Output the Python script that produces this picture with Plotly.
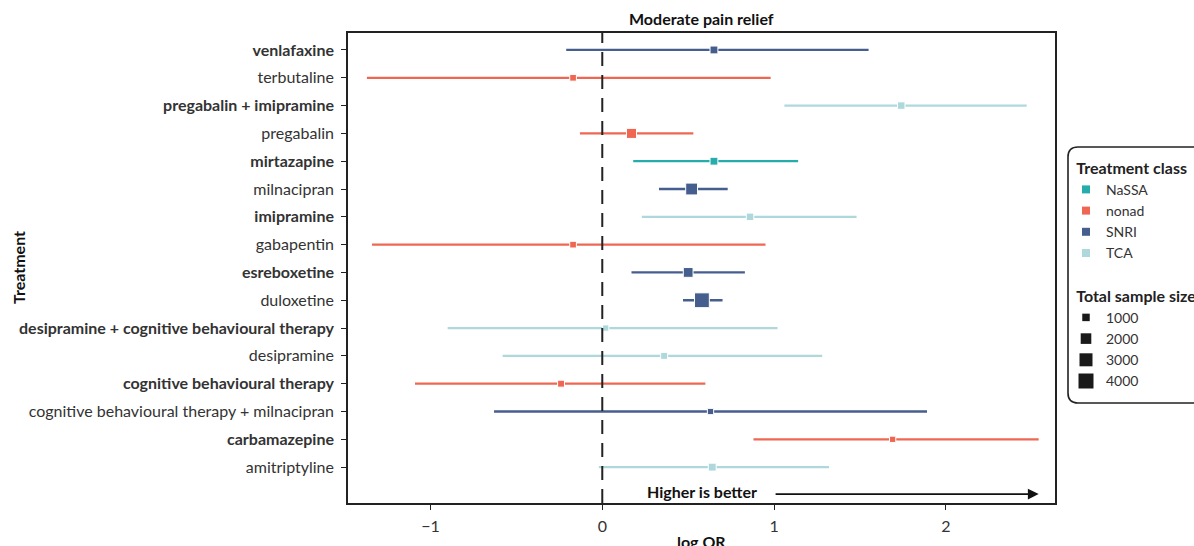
import math
import plotly.graph_objects as go

# ---------------- data (top to bottom as shown) ----------------
treatments = [
    "venlafaxine", "terbutaline", "pregabalin + imipramine", "pregabalin",
    "mirtazapine", "milnacipran", "imipramine", "gabapentin", "esreboxetine",
    "duloxetine", "desipramine + cognitive behavioural therapy", "desipramine",
    "cognitive behavioural therapy", "cognitive behavioural therapy + milnacipran",
    "carbamazepine", "amitriptyline",
]
treatment_class = [
    "SNRI", "nonad", "TCA", "nonad", "NaSSA", "SNRI", "TCA", "nonad", "SNRI",
    "SNRI", "TCA", "TCA", "nonad", "SNRI", "nonad", "TCA",
]
log_or = [0.65, -0.17, 1.74, 0.17, 0.65, 0.52, 0.86, -0.17, 0.50,
          0.58, 0.02, 0.36, -0.24, 0.63, 1.69, 0.64]
ci_low = [-0.21, -1.37, 1.06, -0.13, 0.18, 0.33, 0.23, -1.34, 0.17,
          0.47, -0.90, -0.58, -1.09, -0.63, 0.88, -0.02]
ci_high = [1.55, 0.98, 2.47, 0.53, 1.14, 0.73, 1.48, 0.95, 0.83,
           0.70, 1.02, 1.28, 0.60, 1.89, 2.54, 1.32]
sample_size = [1100, 800, 1000, 1800, 1100, 2500, 1000, 800, 1700,
               3900, 700, 850, 850, 700, 700, 1100]

class_names = ["NaSSA", "nonad", "SNRI", "TCA"]
class_colors = ["#26ADAB", "#EF6753", "#465E8E", "#AED8DB"]
legend_sizes = [1000, 2000, 3000, 4000]
x_ticks = [-1, 0, 1, 2]

FONT = "Lato"


def size_px(n):
    return 15 * math.sqrt(n / 4000)


# bottom-to-top category order
cat_order = treatments[::-1]

fig = go.Figure()

for cname, col in zip(class_names, class_colors):
    idx = [i for i, c in enumerate(treatment_class) if c == cname]
    fig.add_trace(go.Scatter(
        x=[log_or[i] for i in idx],
        y=[treatments[i] for i in idx],
        mode="markers",
        name=cname,
        showlegend=False,
        marker=dict(symbol="square", color=col, opacity=1,
                    size=[size_px(sample_size[i]) for i in idx]),
        error_x=dict(
            type="data", symmetric=False,
            array=[ci_high[i] - log_or[i] for i in idx],
            arrayminus=[log_or[i] - ci_low[i] for i in idx],
            color=col, thickness=2.3, width=0,
        ),
        hoverinfo="skip",
    ))

# legend entries: treatment class
for cname, col in zip(class_names, class_colors):
    fig.add_trace(go.Scatter(
        x=[None], y=[None], mode="markers", name=cname, legend="legend",
        marker=dict(symbol="square", color=col, size=8, opacity=1),
    ))

# legend entries: sample size
for n in legend_sizes:
    fig.add_trace(go.Scatter(
        x=[None], y=[None], mode="markers", name=str(n), legend="legend2",
        marker=dict(symbol="square", color="#1a1a1a", size=size_px(n), opacity=1),
    ))

# ---------------- layout ----------------
L, R, T, B = 348, 1055, 33, 503
W, H = 1194, 546
pw, ph = R - L, B - T


def px_to_paper(px, py):
    return (px - L) / pw, (B - py) / ph


# rounded legend box path
bx0, by0, bx1, by1, rad = 1068, 147, 1205, 403, 10


def P(x, y):
    a, b = px_to_paper(x, y)
    return f"{a:.5f},{b:.5f}"


path = (f"M {P(bx0 + rad, by0)} L {P(bx1 - rad, by0)} Q {P(bx1, by0)} {P(bx1, by0 + rad)} "
        f"L {P(bx1, by1 - rad)} Q {P(bx1, by1)} {P(bx1 - rad, by1)} "
        f"L {P(bx0 + rad, by1)} Q {P(bx0, by1)} {P(bx0, by1 - rad)} "
        f"L {P(bx0, by0 + rad)} Q {P(bx0, by0)} {P(bx0 + rad, by0)} Z")

ticktext = [f"<b>{c}</b>" if i % 2 == 1 else c for i, c in enumerate(cat_order)]

fig.update_layout(
    width=W, height=H,
    margin=dict(l=L, r=W - R, t=T, b=H - B, autoexpand=False),
    paper_bgcolor="white", plot_bgcolor="white",
    font=dict(family=FONT, size=15, color="#222222"),
    showlegend=True,
    xaxis=dict(
        range=[-1.48, 2.635], tickvals=x_ticks,
        ticktext=[str(v).replace("-", "\u2212") for v in x_ticks],
        showgrid=False, zeroline=False, showline=True, mirror=True,
        linecolor="#222222", linewidth=1.6, ticks="outside", ticklen=5,
        tickcolor="#222222", tickwidth=1.4, tickfont=dict(size=16, color="#333333"),
        ticklabelstandoff=3, automargin=False,
    ),
    yaxis=dict(
        type="category", categoryorder="array", categoryarray=cat_order,
        tickvals=cat_order, ticktext=ticktext,
        range=[-1.29, 15.61],
        showgrid=False, zeroline=False, showline=True, mirror=True,
        linecolor="#222222", linewidth=1.6, ticks="outside", ticklen=5,
        tickcolor="#222222", tickwidth=1.4, tickfont=dict(size=16, color="#333333"),
        ticklabelstandoff=4, automargin=False,
    ),
    legend=dict(
        title=dict(text="\u00a0\u00a0<b>Treatment class</b>", font=dict(size=16, color="#222222")),
        xref="container", yref="container",
        x=1066 / W, y=1 - 153 / H, xanchor="left", yanchor="top",
        bgcolor="rgba(0,0,0,0)", borderwidth=0, itemsizing="trace",
        font=dict(size=14, color="#333333"), tracegroupgap=0,
    ),
    legend2=dict(
        title=dict(text="\u00a0\u00a0<b>Total sample size</b>", font=dict(size=16, color="#222222")),
        xref="container", yref="container",
        x=1066 / W, y=1 - 281 / H, xanchor="left", yanchor="top",
        bgcolor="rgba(0,0,0,0)", borderwidth=0, itemsizing="trace",
        font=dict(size=14, color="#333333"), tracegroupgap=0,
    ),
    shapes=[
        dict(type="line", xref="x", yref="paper", x0=0, x1=0, y0=0, y1=1,
             line=dict(color="#222222", width=2, dash="14px,9px"), layer="above"),
        dict(type="path", xref="paper", yref="paper", path=path,
             line=dict(color="#222222", width=1.6), fillcolor="rgba(0,0,0,0)"),
    ],
    annotations=[
        dict(text="<b>Moderate pain relief</b>", xref="paper", yref="paper",
             x=0.5, y=1, yshift=3, xanchor="center", yanchor="bottom",
             showarrow=False, font=dict(size=16, color="#111111")),
        dict(text="<b>Treatment</b>", xref="paper", yref="paper",
             x=(18 - L) / pw, y=(B - 268) / ph, textangle=-90,
             xanchor="center", yanchor="middle", showarrow=False,
             font=dict(size=16, color="#111111")),
        dict(text="<b>log OR</b>", xref="paper", yref="paper",
             x=0.5, y=(B - 541) / ph, xanchor="center", yanchor="middle",
             showarrow=False, font=dict(size=16, color="#111111")),
        dict(text="<b>Higher is better</b>", xref="x", yref="y",
             x=0.58, y=-0.88, xanchor="center", yanchor="middle",
             showarrow=False, font=dict(size=16, color="#111111")),
        dict(text="", xref="x", yref="y", x=2.54, y=-0.97,
             axref="x", ayref="y", ax=1.0, ay=-0.97,
             showarrow=True, arrowhead=2, arrowsize=1.2, arrowwidth=1.8,
             arrowcolor="#111111"),
    ],
)

fig.write_html("out.html")
